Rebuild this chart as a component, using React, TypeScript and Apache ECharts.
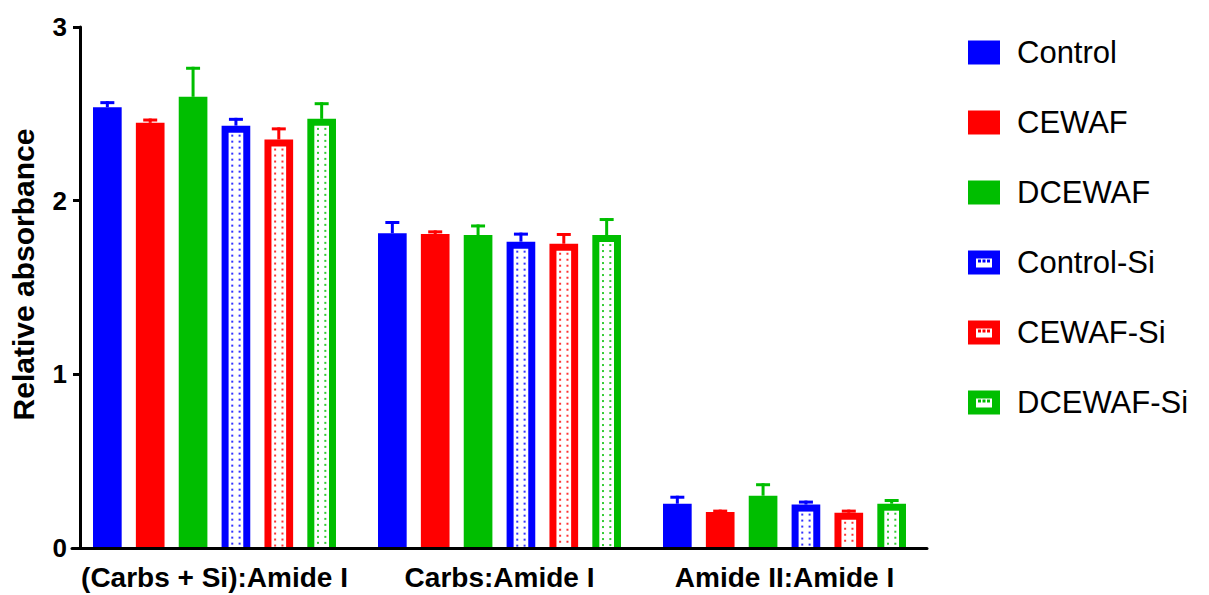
import React, { useEffect, useRef } from "react";
import * as echarts from "echarts";

const categories = ["(Carbs + Si):Amide I", "Carbs:Amide I", "Amide II:Amide I"];
const seriesNames = ["Control", "CEWAF", "DCEWAF", "Control-Si", "CEWAF-Si", "DCEWAF-Si"];
const seriesColors = ["#0000FF", "#FF0000", "#00BE00", "#0000FF", "#FF0000", "#00BE00"];
const dotted = [false, false, false, true, true, true];

const controlMean = [2.538, 1.812, 0.255];
const controlErr = [0.035, 0.071, 0.046];
const cewafMean = [2.448, 1.808, 0.207];
const cewafErr = [0.025, 0.021, 0.014];
const dcewafMean = [2.598, 1.802, 0.301];
const dcewafErr = [0.173, 0.061, 0.072];
const controlSiMean = [2.432, 1.764, 0.25];
const controlSiErr = [0.045, 0.052, 0.023];
const cewafSiMean = [2.352, 1.752, 0.203];
const cewafSiErr = [0.07, 0.062, 0.018];
const dcewafSiMean = [2.471, 1.802, 0.255];
const dcewafSiErr = [0.096, 0.098, 0.027];

const yTicks = [0, 1, 2, 3];

const means = [controlMean, cewafMean, dcewafMean, controlSiMean, cewafSiMean, dcewafSiMean];
const errs = [controlErr, cewafErr, dcewafErr, controlSiErr, cewafSiErr, dcewafSiErr];

const FONT = "'Liberation Sans', Arial, Helvetica, sans-serif";
const BAR_FRAC = 0.1006;
const PITCH_FRAC = 0.1504;

const siIcon =
  "path://M0 0 H32 V24 H0 Z M8 8 V17 H24 V8 Z M10 9 H13 V12 H10 Z M14.5 9 H17.5 V12 H14.5 Z M19 9 H22 V12 H19 Z";

export default function App() {
  const ref = useRef<HTMLDivElement>(null);

  useEffect(() => {
    if (!ref.current) return;
    const chart = echarts.init(ref.current, undefined, { renderer: "svg" });

    const series = seriesNames.map((name, i) => ({
      name,
      type: "custom",
      itemStyle: { color: seriesColors[i] },
      encode: { x: 0, y: 1 },
      data: categories.map((_, j) => [j, means[i][j], errs[i][j]]),
      renderItem: (params: any, api: any) => {
        const j = api.value(0);
        const v = api.value(1);
        const e = api.value(2);
        const color = seriesColors[i];
        const catW = api.size([1, 0])[0];
        const bw = catW * BAR_FRAC;
        const pitch = catW * PITCH_FRAC;
        const top = api.coord([j, v]);
        const base = api.coord([j, 0]);
        const errTop = api.coord([j, v + e]);
        const cx = top[0] + (i - 2.5) * pitch;
        const x0 = cx - bw / 2;
        const h = base[1] - top[1];
        const children: any[] = [];
        children.push({
          type: "rect",
          shape: { x: cx - 1.5, y: errTop[1], width: 3, height: top[1] - errTop[1] },
          style: { fill: color },
        });
        children.push({
          type: "rect",
          shape: { x: cx - 7, y: errTop[1], width: 14, height: 3 },
          style: { fill: color },
        });
        children.push({
          type: "rect",
          shape: { x: x0, y: top[1], width: bw, height: h },
          style: { fill: color },
        });
        if (dotted[i]) {
          const b = 7;
          const ix = x0 + b;
          const iw = bw - 2 * b;
          const iy = top[1] + b;
          const ih = h - b;
          children.push({
            type: "rect",
            shape: { x: ix, y: iy, width: iw, height: ih },
            style: { fill: "#ffffff" },
          });
          for (let yy = iy + 3; yy < base[1] - 2; yy += 6) {
            children.push({
              type: "rect",
              shape: { x: ix + iw * 0.25 - 1, y: yy - 1, width: 2, height: 2 },
              style: { fill: color, opacity: 0.8 },
            });
            children.push({
              type: "rect",
              shape: { x: ix + iw * 0.75 - 1, y: yy - 1, width: 2, height: 2 },
              style: { fill: color, opacity: 0.8 },
            });
          }
        }
        return { type: "group", children };
      },
    }));

    chart.setOption({
      animation: false,
      backgroundColor: "#ffffff",
      grid: { left: 70, right: 282, top: 27, bottom: 47 },
      legend: {
        orient: "vertical",
        left: 968,
        top: 37,
        padding: 0,
        itemWidth: 32,
        itemHeight: 24,
        itemGap: 39,
        selectedMode: false,
        textStyle: {
          fontSize: 31,
          lineHeight: 31,
          color: "#000",
          fontFamily: FONT,
          padding: [0, 0, 0, 12],
        },
        data: seriesNames.map((name, i) => ({
          name,
          icon: dotted[i] ? siIcon : "rect",
          itemStyle: { color: seriesColors[i] },
        })),
      },
      xAxis: {
        type: "category",
        data: categories,
        z: 10,
        axisLine: { lineStyle: { color: "#000", width: 3 } },
        axisTick: { alignWithLabel: true, interval: 0, length: 8, lineStyle: { color: "#000", width: 3 } },
        axisLabel: {
          interval: 0,
          margin: 15,
          fontSize: 28,
          fontWeight: "bold",
          color: "#000",
          fontFamily: FONT,
        },
        splitLine: { show: false },
      },
      yAxis: {
        type: "value",
        min: yTicks[0],
        max: yTicks[yTicks.length - 1],
        interval: 1,
        offset: -8,
        z: 10,
        name: "Relative absorbance",
        nameLocation: "middle",
        nameGap: 42,
        nameTextStyle: {
          fontSize: 30,
          fontWeight: "bold",
          color: "#000",
          fontFamily: FONT,
          padding: [0, 0, 0, 26],
        },
        axisLine: { show: true, lineStyle: { color: "#000", width: 3 } },
        axisTick: { show: true, length: 7, lineStyle: { color: "#000", width: 3 } },
        axisLabel: {
          margin: 13,
          fontSize: 26,
          fontWeight: "bold",
          color: "#000",
          fontFamily: FONT,
        },
        splitLine: { show: false },
      },
      series,
    });

    return () => chart.dispose();
  }, []);

  return (
    <div
      ref={ref}
      style={{ position: "fixed", left: 0, top: 0, width: 1209, height: 595, background: "#fff" }}
    />
  );
}
